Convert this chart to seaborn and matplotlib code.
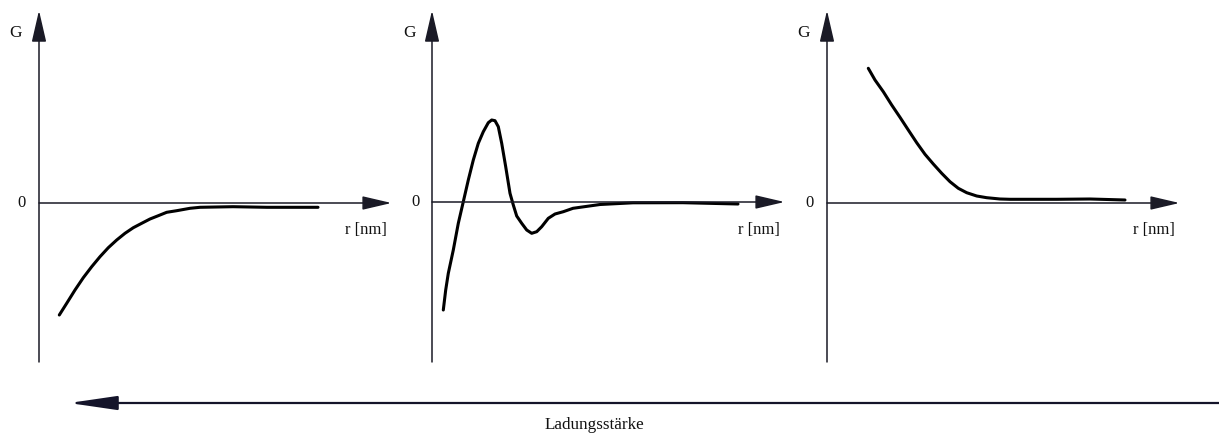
import matplotlib
matplotlib.use("Agg")
import matplotlib.pyplot as plt
import seaborn as sns
import pandas as pd

# ---- data (arbitrary units: r = distance, G = interaction energy) ----
r_strong = [2.03, 2.77, 3.6, 4.43, 5.27, 6.1, 6.93, 7.77, 8.6, 9.43, 10.27, 11.1,
            11.93, 12.77, 13.77, 15.1, 16.1, 19.4, 22.8, 26.1, 27.9]
G_strong = [-11.2, -10.03, -8.7, -7.47, -6.37, -5.37, -4.47, -3.7, -3.03, -2.47, -2.03, -1.6,
            -1.27, -0.93, -0.77, -0.53, -0.43, -0.37, -0.43, -0.43, -0.43]

r_medium = [1.13, 1.37, 1.63, 2.13, 2.63, 3.13, 3.63, 4.13, 4.63, 5.13, 5.63, 5.97, 6.3,
            6.63, 6.97, 7.37, 7.8, 8.13, 8.47, 8.97, 9.47, 9.97, 10.47, 10.97, 11.63,
            12.3, 13.13, 14.1, 16.8, 20.1, 25.1, 30.6]
G_medium = [-10.8, -8.8, -7.13, -4.8, -2.13, 0.03, 2.2, 4.2, 5.87, 7.03, 7.93, 8.2, 8.13,
            7.53, 5.87, 3.53, 0.87, -0.3, -1.4, -2.13, -2.8, -3.13, -2.97, -2.47, -1.63,
            -1.2, -0.97, -0.63, -0.25, -0.08, -0.07, -0.2]

r_weak = [4.13, 4.8, 5.63, 6.47, 7.3, 8.13, 8.97, 9.8, 10.63, 11.47, 12.3, 13.13, 13.97,
          14.97, 15.97, 17.3, 18.3, 22.97, 26.3, 29.8]
G_weak = [13.47, 12.3, 11.13, 9.8, 8.57, 7.3, 6.03, 4.87, 3.9, 2.97, 2.13, 1.47, 1.03,
          0.7, 0.53, 0.4, 0.37, 0.37, 0.4, 0.3]

x_label = "r [nm]"
y_label = "G"
zero_label = "0"
bottom_label = "Ladungsstärke"

panels = [
    (r_strong, G_strong),
    (r_medium, G_medium),
    (r_weak, G_weak),
]

# ---- layout (pixels) ----
W, H = 1219, 434
axis_left_px = [39, 432, 827]
zero_px = [203, 202, 203]
top_px, bottom_px = 13, 362
panel_w_px = 350
unit = 10.0  # px per data unit

sns.set_theme(style="white")
plt.rcParams["font.family"] = ["Liberation Serif", "DejaVu Serif"]
plt.rcParams["font.size"] = 12

fig = plt.figure(figsize=(W / 100, H / 100), dpi=100)
fig.patch.set_facecolor("white")

axis_color = "#1a1a26"

for (r, G), xl, zp in zip(panels, axis_left_px, zero_px):
    ax = fig.add_axes([xl / W, (H - bottom_px) / H, panel_w_px / W, (bottom_px - top_px) / H])
    ax.set_axis_off()
    xmax = panel_w_px / unit
    ylo = (zp - bottom_px) / unit
    yhi = (zp - top_px) / unit
    ax.set_xlim(0, xmax)
    ax.set_ylim(ylo, yhi)

    # axes with arrow heads
    ax.annotate("", xy=(xmax + 0.25, 0), xytext=(0, 0),
                arrowprops=dict(arrowstyle="-|>,head_length=1.8,head_width=0.42",
                                mutation_scale=10, lw=1.1, color=axis_color,
                                shrinkA=0, shrinkB=0), annotation_clip=False)
    ax.annotate("", xy=(0, yhi + 0.25), xytext=(0, ylo),
                arrowprops=dict(arrowstyle="-|>,head_length=1.95,head_width=0.45",
                                mutation_scale=10, lw=1.1, color=axis_color,
                                shrinkA=0, shrinkB=0), annotation_clip=False)

    df = pd.DataFrame({"r": r, "G": G})
    sns.lineplot(data=df, x="r", y="G", ax=ax, color="black", lw=2.2,
                 sort=False, estimator=None, legend=False)
    ax.set_xlim(0, xmax)
    ax.set_ylim(ylo, yhi)
    ax.set_xlabel("")
    ax.set_ylabel("")

    ax.text(-2.3, (zp - 33) / unit, y_label, ha="center", va="center",
            fontsize=12.5, clip_on=False, color="#111111")
    ax.text(-1.7, 0, zero_label, ha="center", va="center",
            fontsize=12, clip_on=False, color="#111111")
    ax.text(32.7, -2.75, x_label, ha="center", va="center",
            fontsize=12, clip_on=False, color="#111111")

# bottom arrow (direction of increasing charge strength)
fig_ax = fig.add_axes([0, 0, 1, 1], zorder=-1)
fig_ax.set_axis_off()
fig_ax.set_xlim(0, W)
fig_ax.set_ylim(0, H)
fig_ax.annotate("", xy=(69, H - 403), xytext=(W, H - 403),
                arrowprops=dict(arrowstyle="-|>,head_length=2.95,head_width=0.43",
                                mutation_scale=10, lw=1.6, color="#14142a",
                                shrinkA=0, shrinkB=0), annotation_clip=False)
fig_ax.text(594, H - 425, bottom_label, ha="center", va="center",
            fontsize=12.3, color="#111111")

fig.savefig("out.png", dpi=100, facecolor="white")
